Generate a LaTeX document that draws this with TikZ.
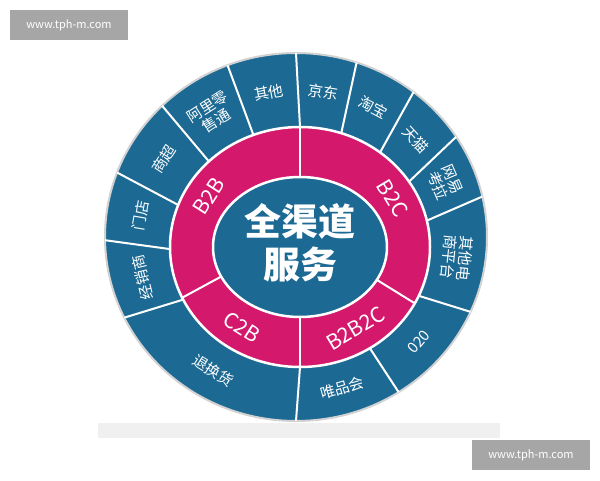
\documentclass[tikz,border=0pt]{standalone}
\usepackage{fontspec}
\setmainfont{Noto Sans CJK SC}
\usetikzlibrary{calc}
\definecolor{cblue}{HTML}{1C6A94}
\definecolor{cmag}{HTML}{D4186C}
\definecolor{wgray}{HTML}{A6A6A6}
\tikzset{
  sep/.style={white,line width=2pt},
  olab/.style={text=white,font=\fontsize{15}{16}\selectfont,align=center,inner sep=0pt},
  mlab/.style={text=white,font=\fontsize{21}{22}\selectfont,inner sep=0pt},
  wm/.style={fill=wgray,text=white,font=\fontsize{11}{12}\selectfont,minimum width=118pt,minimum height=30pt,inner sep=0pt}
}
\begin{document}
\begin{tikzpicture}[x=1pt,y=1pt]
\useasboundingbox (0,0) rectangle (600,480);
\fill[white] (0,0) rectangle (600,480);
\coordinate (O1) at (296,243);
\coordinate (O2) at (300,233);
% platform
\fill[gray!12] (98,42) rectangle (500,57);
% outer disc
\fill[cblue,draw=gray!35,line width=2pt] (O1) ellipse [x radius=191,y radius=184];
% magenta ring
\fill[cmag] (O2) ellipse [x radius=130,y radius=120];
\draw[sep,line width=2.5pt] (O2) ellipse [x radius=130,y radius=120];
\fill[cblue] (O2) ellipse [x radius=87,y radius=70];
\draw[sep,line width=2.5pt] (O2) ellipse [x radius=87,y radius=70];
% magenta separators
\foreach \a in {90,205,270,332}
  \draw[sep] ($(O2)+(\a:87 and 70)$) -- ($(O2)+(\a:130 and 120)$);
% outer separators
\foreach \a in {90,111,134.5,159.5,181,206,270,302.5,336,12.7,33,52,71.5}
  \draw[sep] ($(O2)+(\a:130 and 120)$) -- ($(O1)+(\a:191 and 184)$);
% center
\node[text=white,font=\bfseries\fontsize{37}{43}\selectfont,align=center,inner sep=0pt] (c) at ($(O2)+(0,4)$) {全渠道\\服务};
% magenta labels
\node[mlab,rotate=57.5] (b2b) at ($(O2)+(147.5:108 and 95)$) {B2B};
\node[mlab,rotate=-59] (b2c) at ($(O2)+(31:108 and 95)$) {B2C};
\node[mlab,rotate=-32.5] (c2b) at ($(O2)+(237.5:108 and 95)$) {C2B};
\node[mlab,rotate=31] (b2b2c) at ($(O2)+(301:108 and 95)$) {B2B2C};
% outer labels
\newcommand\olabel[4]{\node[olab,rotate=#2] (#4) at ($(O1)!0.5!(O2)+(#1:160 and 152)$) {#3};}
\olabel{100.5}{10.5}{其他}{o1}
\olabel{122.5}{32.5}{阿里零\\售通}{o2}
\olabel{147}{57}{商超}{o3}
\olabel{170}{80}{门店}{o4}
\olabel{193.5}{103.5}{经销商}{o5}
\olabel{238}{-32}{退换货}{o6}
\olabel{286}{16}{唯品会}{o7}
\olabel{319}{49}{020}{o8}
\olabel{354}{-96}{其他电\\商平台}{o9}
\olabel{23}{-67}{网易\\考拉}{o10}
\olabel{42.5}{-47.5}{天猫}{o11}
\olabel{62}{-28}{淘宝}{o12}
\olabel{81}{-9}{京东}{o13}
% watermarks
\node[wm] (w1) at (69,455) {www.tph-m.com};
\node[wm] (w2) at (531,25) {www.tph-m.com};
\end{tikzpicture}
\end{document}
